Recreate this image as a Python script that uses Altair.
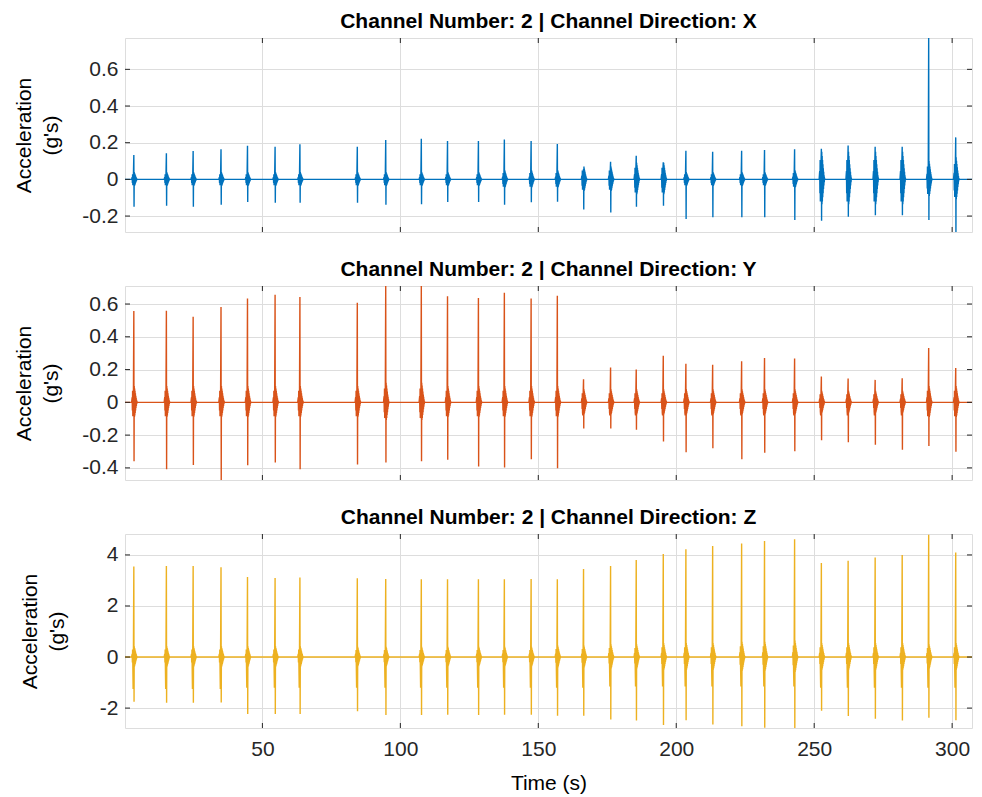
import altair as alt
import pandas as pd

# ---------------- data ----------------
impact_times = [3.4, 15.2, 24.9, 35.0, 44.6, 54.6, 63.6, 84.4, 94.7, 107.6, 117.1, 128.3,
                137.7, 147.4, 156.9, 166.4, 176.2, 185.5, 195.3, 203.5, 213.2, 223.7, 232.0,
                242.9, 252.6, 262.3, 272.1, 281.9, 291.5, 301.3]

x_pos = [0.133, 0.142, 0.155, 0.164, 0.184, 0.178, 0.191, 0.178, 0.215, 0.222, 0.209, 0.209,
         0.218, 0.209, 0.193, 0.056, 0.096, 0.129, 0.093, 0.156, 0.151, 0.156, 0.160,
         0.164, 0.167, 0.185, 0.178, 0.178, 0.771, 0.229]
x_neg = [-0.149, -0.144, -0.149, -0.138, -0.124, -0.127, -0.127, -0.127, -0.138, -0.135, -0.124, -0.124,
         -0.138, -0.125, -0.122, -0.164, -0.180, -0.149, -0.144, -0.216, -0.207, -0.207, -0.207,
         -0.222, -0.225, -0.204, -0.195, -0.195, -0.222, -0.289]
x_burst = [0.04, 0.04, 0.04, 0.04, 0.04, 0.04, 0.04, 0.04, 0.04, 0.04, 0.04, 0.04,
           0.05, 0.05, 0.05, 0.07, 0.07, 0.09, 0.09, 0.04, 0.04, 0.04, 0.04,
           0.05, 0.15, 0.15, 0.15, 0.15, 0.10, 0.12]
x_pre = [-0.02] * 30

y_pos = [0.557, 0.559, 0.522, 0.582, 0.633, 0.657, 0.643, 0.608, 0.710, 0.710, 0.647, 0.637,
         0.669, 0.633, 0.651, 0.141, 0.212, 0.200, 0.284, 0.235, 0.229, 0.251, 0.271,
         0.267, 0.157, 0.145, 0.137, 0.147, 0.331, 0.210]
y_neg = [-0.359, -0.408, -0.382, -0.474, -0.384, -0.367, -0.408, -0.380, -0.367, -0.359, -0.351, -0.392,
         -0.398, -0.347, -0.402, -0.159, -0.159, -0.167, -0.239, -0.304, -0.280, -0.347, -0.308,
         -0.298, -0.231, -0.243, -0.259, -0.290, -0.267, -0.302]
y_burst = [0.10, 0.10, 0.10, 0.10, 0.10, 0.10, 0.10, 0.10, 0.12, 0.12, 0.10, 0.10,
           0.10, 0.10, 0.10, 0.08, 0.08, 0.08, 0.08, 0.08, 0.08, 0.08, 0.08,
           0.08, 0.07, 0.07, 0.07, 0.07, 0.10, 0.10]
y_pre = [-0.08] * 30

z_pos = [3.55, 3.57, 3.57, 3.52, 3.14, 3.10, 3.12, 3.09, 3.06, 3.05, 3.05, 3.05,
         3.05, 3.06, 3.05, 3.45, 3.57, 3.80, 4.04, 4.22, 4.35, 4.45, 4.55,
         4.61, 3.68, 3.77, 3.90, 4.00, 4.79, 4.10]
z_neg = [-1.75, -1.79, -1.79, -1.78, -2.23, -2.23, -2.23, -2.12, -2.27, -2.27, -2.26, -2.27,
         -2.26, -2.26, -2.30, -2.30, -2.45, -2.49, -2.66, -2.48, -2.64, -2.71, -2.77,
         -2.80, -2.10, -2.31, -2.42, -2.49, -2.38, -2.48]
z_burst = [0.42, 0.42, 0.42, 0.42, 0.42, 0.42, 0.42, 0.40, 0.40, 0.40, 0.40, 0.40,
           0.40, 0.40, 0.45, 0.45, 0.50, 0.50, 0.55, 0.55, 0.55, 0.60, 0.60,
           0.65, 0.55, 0.55, 0.55, 0.55, 0.50, 0.55]
z_pre = [-1.25, -1.25, -1.25, -1.25, -1.20, -1.20, -1.20, -1.20, -1.20, -1.20, -1.20, -1.20,
         -1.20, -1.20, -1.20, -1.20, -1.15, -1.15, -1.15, -1.15, -1.15, -1.15, -1.15,
         -1.15, -1.20, -1.20, -1.20, -1.20, -1.20, -1.20]

# ringing profile around each impact (fraction of the burst amplitude)
pre_ring = [0.3, -0.5, 0.7, -0.8]
post_ring = [1.0, -0.9, 0.85, -0.8, 0.7, -0.65, 0.55, -0.5, 0.4, -0.35, 0.28, -0.22, 0.15, -0.1, 0.05]

x_domain = [0.2, 307.2]
x_ticks = [50, 100, 150, 200, 250, 300]

panels = [
    ("X", "#0072BD", x_pos, x_neg, x_burst, x_pre, [-0.287, 0.771], [-0.2, 0, 0.2, 0.4, 0.6], 20),
    ("Y", "#D95319", y_pos, y_neg, y_burst, y_pre, [-0.474, 0.710], [-0.4, -0.2, 0, 0.2, 0.4, 0.6], 20),
    ("Z", "#EDB120", z_pos, z_neg, z_burst, z_pre, [-2.78, 4.82], [-2, 0, 2, 4], 32),
]

W, H = 847, 194
FONT = "Liberation Sans"
FRAME = "#262626"
FS = 21


def build_signal(pos, neg, burst, pre):
    rows = [(x_domain[0], 0.0)]
    for t0, p, n, b, pr in zip(impact_times, pos, neg, burst, pre):
        rows.append((t0 - 0.8, 0.0))
        for k, f in enumerate(pre_ring):
            rows.append((t0 - 0.6 + 0.08 * k, f * b))
        rows.append((t0 - 0.25, pr))
        rows.append((t0 - 0.15, 0.5 * b))
        rows.append((t0, p))
        rows.append((t0 + 0.08, n))
        for k, f in enumerate(post_ring):
            rows.append((t0 + 0.15 + 0.07 * k, f * b))
        rows.append((t0 + 0.2 + 0.07 * len(post_ring), 0.0))
    rows.append((x_domain[1], 0.0))
    return pd.DataFrame(rows, columns=["t", "v"])


charts = []
for idx, (name, color, pos, neg, burst, pre, ydom, yticks, tpad) in enumerate(panels):
    last = idx == len(panels) - 1
    df = build_signal(pos, neg, burst, pre)
    xscale = alt.Scale(domain=x_domain, nice=False, zero=False)
    yscale = alt.Scale(domain=ydom, nice=False, zero=False)

    if last:
        xaxis = alt.Axis(values=x_ticks, title="Time (s)", grid=True, ticks=False, domain=False,
                         labelFontSize=FS, labelFont=FONT, labelColor=FRAME, labelPadding=10,
                         labelOverlap=False,
                         titleFontSize=FS, titleFont=FONT, titleFontWeight="normal",
                         titleColor="#000000", titlePadding=13)
    else:
        xaxis = alt.Axis(values=x_ticks, title=None, grid=True, ticks=False, domain=False, labels=False)

    yaxis = alt.Axis(values=yticks, title=["Acceleration", "(g's)"], grid=True, ticks=False, domain=False,
                     labelFontSize=FS, labelFont=FONT, labelColor=FRAME, labelPadding=7,
                     labelOverlap=False, labelBound=False, labelExpr="'' + datum.value",
                     titleFontSize=FS, titleFont=FONT, titleFontWeight="normal", titleColor="#000000",
                     titleLineHeight=27, titlePadding=tpad)

    line = alt.Chart(df).mark_line(color=color, strokeWidth=1.4, clip=True).encode(
        x=alt.X("t:Q", scale=xscale, axis=xaxis),
        y=alt.Y("v:Q", scale=yscale, axis=yaxis),
    )

    ydf = pd.DataFrame({"v": yticks})
    xdf = pd.DataFrame({"t": x_ticks})
    tl = alt.Chart(ydf).mark_rule(color=FRAME, strokeWidth=1).encode(
        y=alt.Y("v:Q", scale=yscale, axis=yaxis), x=alt.value(0), x2=alt.value(5))
    tr = alt.Chart(ydf).mark_rule(color=FRAME, strokeWidth=1).encode(
        y=alt.Y("v:Q", scale=yscale, axis=yaxis), x=alt.value(W - 5), x2=alt.value(W))
    tb = alt.Chart(xdf).mark_rule(color=FRAME, strokeWidth=1).encode(
        x=alt.X("t:Q", scale=xscale, axis=xaxis), y=alt.value(H - 5), y2=alt.value(H))
    tt = alt.Chart(xdf).mark_rule(color=FRAME, strokeWidth=1).encode(
        x=alt.X("t:Q", scale=xscale, axis=xaxis), y=alt.value(0), y2=alt.value(5))

    layer = alt.layer(line, tl, tr, tb, tt).properties(
        width=W, height=H,
        title=alt.TitleParams(f"Channel Number: 2 | Channel Direction: {name}", fontSize=FS,
                              font=FONT, fontWeight="bold", color="#000000", anchor="middle", offset=6),
    )
    charts.append(layer)

chart = alt.vconcat(*charts, spacing=25).properties(
    padding={"left": 13, "top": 10, "right": 5, "bottom": 0}
).configure_view(
    stroke=FRAME, strokeWidth=1
).configure_axis(
    gridColor="#dedede", gridWidth=1, labelOverlap=False
).configure(background="white")

chart.save("out.html", embed_options={"renderer": "svg", "actions": False})
